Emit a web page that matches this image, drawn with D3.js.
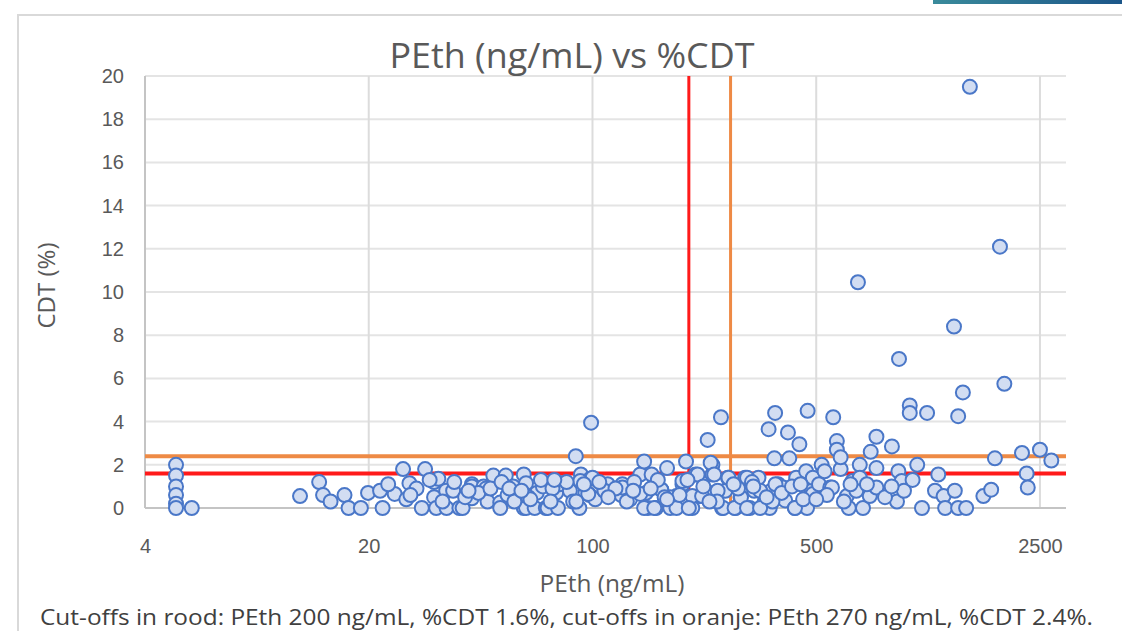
<!DOCTYPE html>
<html>
  <head>
    <meta charset="utf-8">
    <title>PEth (ng/mL) vs %CDT</title>
    <script src="https://d3js.org/d3.v7.min.js"></script>
    <style>
      body { margin: 0; background: #fff; }
      svg { display: block; font-family: "Open Sans", "Noto Sans", sans-serif; }
      .tick text { fill: #595959; font-size: 20px; }
      .domain { display: none; }
    </style>
  </head>
  <body>
    <svg id="chart" width="1122" height="631"></svg>
    <script>
      // data
      const xTicks = [4, 20, 100, 500, 2500];
      const yTicks = [0, 2, 4, 6, 8, 10, 12, 14, 16, 18, 20];
      const cutoffPeth = [200, 270];
      const cutoffCdt = [1.6, 2.4];
      const cutoffColors = ["#ff1a1a", "#ee8a45"];
      const pethValues = [
        5, 5, 5, 5, 5, 5, 5.6,
        12.2, 14, 14.4, 15.2, 16.8, 17.3, 18.9, 19.9, 21.7, 22.1, 24.1, 25.6, 26.8, 26.2, 28.2, 30, 29.3,
        32, 32, 32.5, 33, 34.9, 35, 36.7, 38.4, 39.3, 42, 42, 42, 45.7, 46.5, 47, 49, 51.5, 51.5, 53.6, 54.3,
        56.5, 58.7, 61, 62, 61, 62, 67, 66, 70, 71.5, 72.4, 77, 78, 80, 79, 85, 88.7, 92, 91, 95, 98.4, 98,
        99, 100, 102, 109, 111.6, 123, 124, 131, 141, 145, 147, 149, 153, 158, 164, 171, 175, 183, 191, 196,
        205, 210, 216, 226, 229, 237, 237, 234, 252, 254, 260, 265, 280, 290, 300, 310, 320, 330, 345, 355,
        358, 362, 370, 372, 380, 394, 400, 408, 412, 429, 433, 433, 443, 465, 468, 470, 484, 488, 488, 510,
        520, 531, 553, 560, 565, 580, 580, 596, 596, 623, 632, 650, 667, 675, 684, 684, 700, 735, 740, 771,
        771, 771, 862, 894, 903, 907, 925, 940, 980, 980, 1034, 1070, 1110, 1175, 1203, 1250, 1264, 1347,
        1355, 1388, 1388, 1436, 1470, 1510, 1664, 1760, 1808, 1875, 1935, 2197, 2272, 2290, 2500, 2713,
        91.6, 97, 109, 124, 141, 145, 156, 164, 175, 183, 191, 205, 200, 213, 220, 240, 246, 256, 266, 278,
        291, 304, 304, 334, 334, 373, 365, 429, 118, 135, 160, 187, 222, 245, 285, 315, 350, 390, 420, 455,
        540, 610, 720, 820, 1000, 63, 75, 87, 105, 128, 152, 168,
        23, 27, 31, 37, 40, 44, 48, 52, 57, 64, 69, 74, 83, 89, 34, 41, 55, 60, 76, 94,
        112, 134, 171, 198, 232, 276, 318, 447, 500, 640, 860
      ];
      const cdtValues = [
        2.0, 1.5, 1.0, 0.6, 0.2, 0, 0,
        0.55, 1.2, 0.6, 0.3, 0.6, 0, 0, 0.7, 0.8, 0, 0.65, 1.8, 1.15, 0.4, 0.9, 1.8, 0,
        1.2, 0.5, 0, 1.35, 0.8, 0, 0.8, 0, 0, 1.1, 0.45, 1.0, 1.0, 0.9, 0.3, 1.5, 0.25, 0, 1.5, 0.6,
        1.0, 0.45, 1.55, 1.15, 0, 0, 0.7, 0, 1.0, 0, 0, 0.7, 0, 1.15, 1.1, 0.8, 2.4, 1.55, 0, 0.7, 1.35, 0.6,
        3.95, 1.4, 0.4, 0.8, 1.1, 0.6, 1.1, 0.4, 1.55, 2.15, 0.7, 0, 1.55, 0, 0.85, 1.85, 0, 0.55, 1.1, 2.15,
        0, 1.55, 0.55, 0.8, 3.15, 2.0, 1.55, 2.1, 4.2, 0, 0.8, 1.4, 0, 0.5, 1.4, 0, 0.8, 1.4, 0.3, 3.65,
        0, 0.8, 2.3, 4.4, 1.1, 0.95, 0.35, 3.5, 2.3, 0, 1.25, 1.4, 2.95, 1.7, 0, 4.5, 0.8, 0.65, 1.4, 1.1,
        2.0, 1.7, 0.95, 0.95, 4.2, 3.1, 2.7, 1.8, 2.35, 0.55, 0, 1.25, 0.8, 10.45, 2.0, 1.4, 0, 0.55, 2.6, 3.3,
        1.85, 0.95, 2.85, 0.3, 1.7, 6.9, 1.25, 0.8, 4.75, 4.4, 2.0, 0, 4.4, 0.8, 1.55, 0.55, 0, 8.4,
        0.8, 4.25, 0, 5.35, 0, 19.5, 0.55, 0.85, 2.3, 12.1, 5.75, 2.55, 1.6, 0.95, 2.7, 2.2,
        1.25, 0.65, 0.8, 0.95, 0.65, 0, 0, 0.85, 0.5, 0, 1.25, 0.55, 0, 1.55, 0.55, 1.55, 0.8, 0, 1.4, 0,
        0.5, 1.4, 0, 0.8, 0, 1.1, 0.3, 0, 0.9, 1.2, 1.3, 0.6, 1.0, 0.3, 0.9, 1.2, 0.5, 0.7, 1.0, 0.4,
        0.6, 0.3, 1.1, 0.5, 1.3, 0.5, 0.9, 0.3, 1.2, 0.3, 0.9, 0.5,
        1.1, 0.6, 1.3, 1.2, 0.5, 0.7, 0.9, 1.2, 0.3, 0.4, 1.3, 0.3, 1.2, 0.3, 0.3, 0.8, 0.9, 0.8, 1.3, 1.1,
        0.5, 0.8, 0.4, 1.3, 0.3, 1.1, 1.0, 1.1, 0.4, 1.1, 1.0
      ];

      const svg = d3.select("#chart");
      const margin = { top: 76, right: 56, bottom: 123, left: 145 };
      const width = 1122, height = 631;

      const x = d3.scaleLog()
        .domain([4, 3015])
        .range([margin.left, width - margin.right]);
      const y = d3.scaleLinear()
        .domain([0, 20])
        .range([height - margin.bottom, margin.top]);

      // top-right coloured strip and chart frame
      const grad = svg.append("defs").append("linearGradient").attr("id", "strip");
      grad.append("stop").attr("offset", "0%").attr("stop-color", "#3a8b9b");
      grad.append("stop").attr("offset", "100%").attr("stop-color", "#1c5689");
      svg.append("rect").attr("x", 933).attr("y", 0).attr("width", 189).attr("height", 4).attr("fill", "url(#strip)");
      svg.append("path")
        .attr("d", "M18," + height + "V15H" + width)
        .attr("fill", "none").attr("stroke", "#d9d9d9").attr("stroke-width", 2);

      // gridlines
      svg.append("g").selectAll("line")
        .data(yTicks.slice(1))
        .join("line")
          .attr("x1", margin.left).attr("x2", width - margin.right)
          .attr("y1", d => y(d)).attr("y2", d => y(d))
          .attr("stroke", "#e4e4e4").attr("stroke-width", 2);
      svg.append("g").selectAll("line")
        .data(xTicks.slice(1))
        .join("line")
          .attr("x1", d => x(d)).attr("x2", d => x(d))
          .attr("y1", y(0)).attr("y2", y(20))
          .attr("stroke", "#dcdcdc").attr("stroke-width", 2);
      // axis lines
      svg.append("line")
        .attr("x1", margin.left).attr("x2", margin.left)
        .attr("y1", y(0)).attr("y2", y(20))
        .attr("stroke", "#c4c4c4").attr("stroke-width", 2);
      svg.append("line")
        .attr("x1", margin.left).attr("x2", width - margin.right)
        .attr("y1", y(0)).attr("y2", y(0))
        .attr("stroke", "#c4c4c4").attr("stroke-width", 2);

      // axes
      svg.append("g")
        .attr("transform", "translate(0," + y(0) + ")")
        .call(d3.axisBottom(x).tickValues(xTicks).tickFormat(d3.format("d")).tickSize(0).tickPadding(31));
      svg.append("g")
        .attr("transform", "translate(" + margin.left + ",0)")
        .call(d3.axisLeft(y).tickValues(yTicks).tickSize(0).tickPadding(21));

      // cut-off lines
      cutoffCdt.forEach(function(c, i) {
        svg.append("line")
          .attr("x1", margin.left).attr("x2", width - margin.right)
          .attr("y1", y(c)).attr("y2", y(c))
          .attr("stroke", cutoffColors[i]).attr("stroke-width", 4);
      });
      cutoffPeth.forEach(function(p, i) {
        svg.append("line")
          .attr("x1", x(p)).attr("x2", x(p))
          .attr("y1", y(0)).attr("y2", y(20))
          .attr("stroke", cutoffColors[i]).attr("stroke-width", 3);
      });

      // points
      svg.append("g").selectAll("circle")
        .data(pethValues.map((p, i) => [p, cdtValues[i]]))
        .join("circle")
          .attr("cx", d => x(d[0]))
          .attr("cy", d => y(d[1]))
          .attr("r", 7)
          .attr("fill", "#d2ddf2")
          .attr("stroke", "#4a77c8")
          .attr("stroke-width", 2);

      // titles
      svg.append("text")
        .attr("x", 572).attr("y", 68)
        .attr("text-anchor", "middle")
        .attr("fill", "#595959").attr("font-size", 35)
        .attr("textLength", 365).attr("lengthAdjust", "spacingAndGlyphs")
        .text("PEth (ng/mL) vs %CDT");
      svg.append("text")
        .attr("transform", "translate(55," + y(10.3) + ") rotate(-90)")
        .attr("text-anchor", "middle")
        .attr("fill", "#595959").attr("font-size", 24)
        .attr("textLength", 86).attr("lengthAdjust", "spacingAndGlyphs")
        .text("CDT (%)");
      svg.append("text")
        .attr("x", 612).attr("y", 592)
        .attr("text-anchor", "middle")
        .attr("fill", "#595959").attr("font-size", 24)
        .attr("textLength", 145).attr("lengthAdjust", "spacingAndGlyphs")
        .text("PEth (ng/mL)");
      svg.append("text")
        .attr("x", 40).attr("y", 625)
        .attr("fill", "#404040").attr("font-size", 21)
        .attr("textLength", 1053).attr("lengthAdjust", "spacingAndGlyphs")
        .text("Cut-offs in rood: PEth 200 ng/mL, %CDT 1.6%, cut-offs in oranje: PEth 270 ng/mL, %CDT 2.4%.");
    </script>
  </body>
</html>
